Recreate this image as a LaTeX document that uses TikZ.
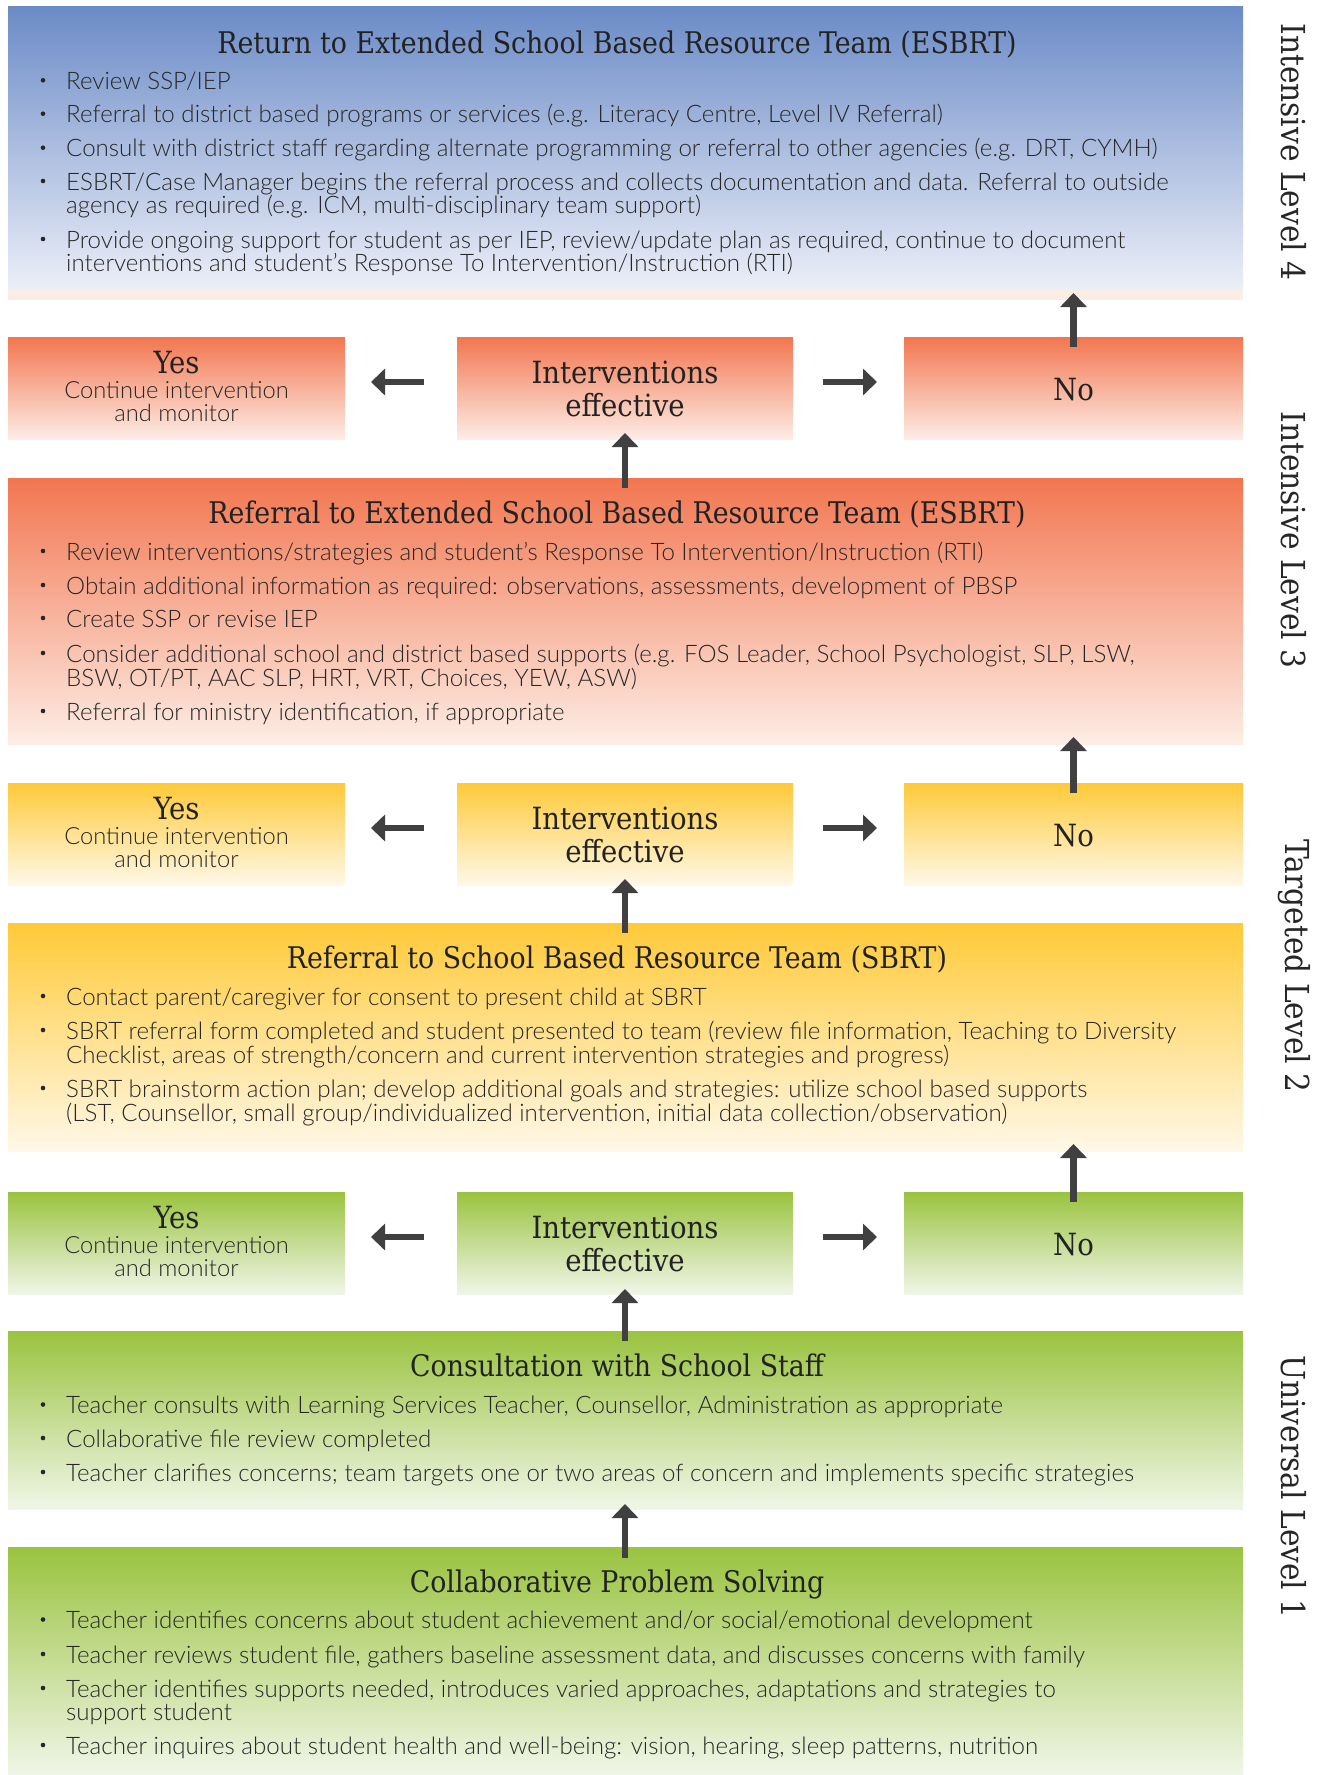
\documentclass[tikz,border=0pt]{standalone}
\usepackage{fontspec}
\setmainfont{Lato Light}
\newfontfamily\slab{DejaVu Serif Condensed}
\usetikzlibrary{arrows.meta,calc}
\definecolor{txt}{HTML}{262626}
\definecolor{ttlc}{HTML}{222222}
\definecolor{arrowc}{HTML}{404040}
\definecolor{blueT}{HTML}{6B8BC7}\definecolor{blueB}{HTML}{ECEFF8}
\definecolor{orT}{HTML}{F27650}\definecolor{orB}{HTML}{FDEDE5}
\definecolor{yeT}{HTML}{FFCA38}\definecolor{yeB}{HTML}{FFF8E8}
\definecolor{grT}{HTML}{9AC33F}\definecolor{grB}{HTML}{F0F6E8}
\definecolor{peach}{HTML}{FBEDE4}
\tikzset{
  bigbox/.style={anchor=north west, inner sep=0pt, outer sep=0pt, minimum width=1235pt},
  smallbox/.style={anchor=north west, inner sep=0pt, outer sep=0pt, minimum width=337pt, minimum height=102pt},
  blueshade/.style={top color=blueT, bottom color=blueB},
  orshade/.style={top color=orT, bottom color=orB},
  yeshade/.style={top color=yeT, bottom color=yeB},
  grshade/.style={top color=grT, bottom color=grB},
  btext/.style={anchor=base west, inner sep=0pt, text=txt, font=\fontsize{24.1}{24}\selectfont},
  stext/.style={anchor=base, inner sep=0pt, text=txt, font=\fontsize{23.7}{24}\selectfont},
  ttl/.style={anchor=base, inner sep=0pt, text=ttlc, font=\slab\fontsize{29.8}{30}\selectfont},
  sttl/.style={anchor=base, inner sep=0pt, text=ttlc, font=\slab\fontsize{30.6}{30}\selectfont},
  side/.style={rotate=-90, inner sep=0pt, text=txt, font=\slab\fontsize{33}{33}\selectfont},
  arr/.style={draw=arrowc, line width=6.5pt, -{Triangle[width=26pt,length=14pt]}},
}
\newcounter{ln}
\newcommand\bitem[2]{\stepcounter{ln}\fill[txt] (43,{#1-9}) circle (2.3pt);
  \node[btext] (ln\arabic{ln}) at (66,#1) {#2};}
\newcommand\contl[2]{\stepcounter{ln}\node[btext] (ln\arabic{ln}) at (66,#1) {#2};}
\newcommand\smallrow[3]{%
  \node[smallbox,#3] (yes#1) at (8,337+#2) {};
  \node[smallbox,#3,minimum width=336pt] (int#1) at (457,337+#2) {};
  \node[smallbox,#3,minimum width=339pt] (no#1) at (904,337+#2) {};
  \node[sttl] (yest#1) at (176.5,373.3+#2) {Yes};
  \node[stext] (yesa#1) at (176.5,398.3+#2) {Continue intervention};
  \node[stext] (yesb#1) at (176.5,421.7+#2) {and monitor};
  \node[sttl] (intt#1) at (625,383.3+#2) {Interventions};
  \node[sttl] (intb#1) at (625,416.7+#2) {effective};
  \node[sttl] (not#1) at (1073.5,400+#2) {No};
  \draw[arr] ([xshift=-33pt,yshift=6pt]int#1.west) -- ([xshift=26pt,yshift=6pt]yes#1.east);
  \draw[arr] ([xshift=30pt,yshift=6pt]int#1.east) -- ([xshift=-27pt,yshift=6pt]no#1.west);
}
\begin{document}
\begin{tikzpicture}[x=1pt,y=-1pt]
\useasboundingbox (0,0) rectangle (1322,1775);
\fill[white] (0,0) rectangle (1322,1775);
% big boxes
\node[bigbox,blueshade,minimum height=284pt] (ret) at (8,6) {};
\node[bigbox,fill=peach,minimum height=10pt] (retstrip) at (8,290) {};
\node[bigbox,orshade,minimum height=266pt] (esbrt) at (8,478) {};
\node[bigbox,yeshade,minimum height=228pt] (sbrt) at (8,923) {};
\node[bigbox,grshade,minimum height=178pt] (consult) at (8,1331) {};
\node[bigbox,grshade,minimum height=228pt] (collab) at (8,1547) {};
% rows
\smallrow{1}{0}{orshade}
\smallrow{2}{446}{yeshade}
\smallrow{3}{855}{grshade}
% vertical arrows
\draw[arr] ($(int1.south |- esbrt.north)+(0,10)$) -- ($(int1.south)+(0,-6)$);
\draw[arr] ($(no1.north)+(0,10)$) -- ($(no1.north |- retstrip.south)+(0,-7)$);
\draw[arr] ($(int2.south |- sbrt.north)+(0,10)$) -- ($(int2.south)+(0,-6)$);
\draw[arr] ($(no2.north)+(0,10)$) -- ($(no2.north |- esbrt.south)+(0,-7)$);
\draw[arr] ($(int3.south |- consult.north)+(0,10)$) -- ($(int3.south)+(0,-5)$);
\draw[arr] ($(no3.north)+(0,10)$) -- ($(no3.north |- sbrt.south)+(0,-7)$);
\draw[arr] ($(int3.south |- collab.north)+(0,11)$) -- ($(int3.south |- consult.south)+(0,-5)$);
% blue box text
\node[ttl] (rett) at (617,53) {Return to Extended School Based Resource Team (ESBRT)};
\bitem{89.3}{Review SSP/IEP}
\bitem{122.7}{Referral to district based programs or services (e.g. Literacy Centre, Level IV Referral)}
\bitem{156.7}{Consult with district staff regarding alternate programming or referral to other agencies (e.g. DRT, CYMH)}
\bitem{190}{ESBRT/Case Manager begins the referral process and collects documentation and data. Referral to outside}
\contl{213.5}{agency as required (e.g. ICM, multi-disciplinary team support)}
\bitem{248}{Provide ongoing support for student as per IEP, review/update plan as required, continue to document}
\contl{271.5}{interventions and student’s Response To Intervention/Instruction (RTI)}
% red box text
\node[ttl] (esbrtt) at (617,523.5) {Referral to Extended School Based Resource Team (ESBRT)};
\bitem{560}{Review interventions/strategies and student's Response To Intervention/Instruction (RTI)}
\bitem{594}{Obtain additional information as required: observations, assessments, development of PBSP}
\bitem{627}{Create SSP or revise IEP}
\bitem{662}{Consider additional school and district based supports (e.g. FOS Leader, School Psychologist, SLP, LSW,}
\contl{686}{BSW, OT/PT, AAC SLP, HRT, VRT, Choices, YEW, ASW)}
\bitem{720}{Referral for ministry identification, if appropriate}
% yellow box text
\node[ttl] (sbrtt) at (617,968) {Referral to School Based Resource Team (SBRT)};
\bitem{1005}{Contact parent/caregiver for consent to present child at SBRT}
\bitem{1039}{SBRT referral form completed and student presented to team (review file information, Teaching to Diversity}
\contl{1063}{Checklist, areas of strength/concern and current intervention strategies and progress)}
\bitem{1097}{SBRT brainstorm action plan; develop additional goals and strategies: utilize school based supports}
\contl{1121}{(LST, Counsellor, small group/individualized intervention, initial data collection/observation)}
% consult text
\node[ttl] (consultt) at (617,1376.5) {Consultation with School Staff};
\bitem{1413.5}{Teacher consults with Learning Services Teacher, Counsellor, Administration as appropriate}
\bitem{1447}{Collaborative file review completed}
\bitem{1481}{Teacher clarifies concerns; team targets one or two areas of concern and implements specific strategies}
% collab text
\node[ttl] (collabt) at (617,1592) {Collaborative Problem Solving};
\bitem{1628.5}{Teacher identifies concerns about student achievement and/or social/emotional development}
\bitem{1663}{Teacher reviews student file, gathers baseline assessment data, and discusses concerns with family}
\bitem{1697}{Teacher identifies supports needed, introduces varied approaches, adaptations and strategies to}
\contl{1720.5}{support student}
\bitem{1754}{Teacher inquires about student health and well-being: vision, hearing, sleep patterns, nutrition}
% side labels
\node[side] (lv4) at (1294,152) {Intensive Level 4};
\node[side] (lv3) at (1294,540) {Intensive Level 3};
\node[side] (lv2) at (1294,966) {Targeted Level 2};
\node[side] (lv1) at (1294,1487) {Universal Level 1};
\end{tikzpicture}
\end{document}
